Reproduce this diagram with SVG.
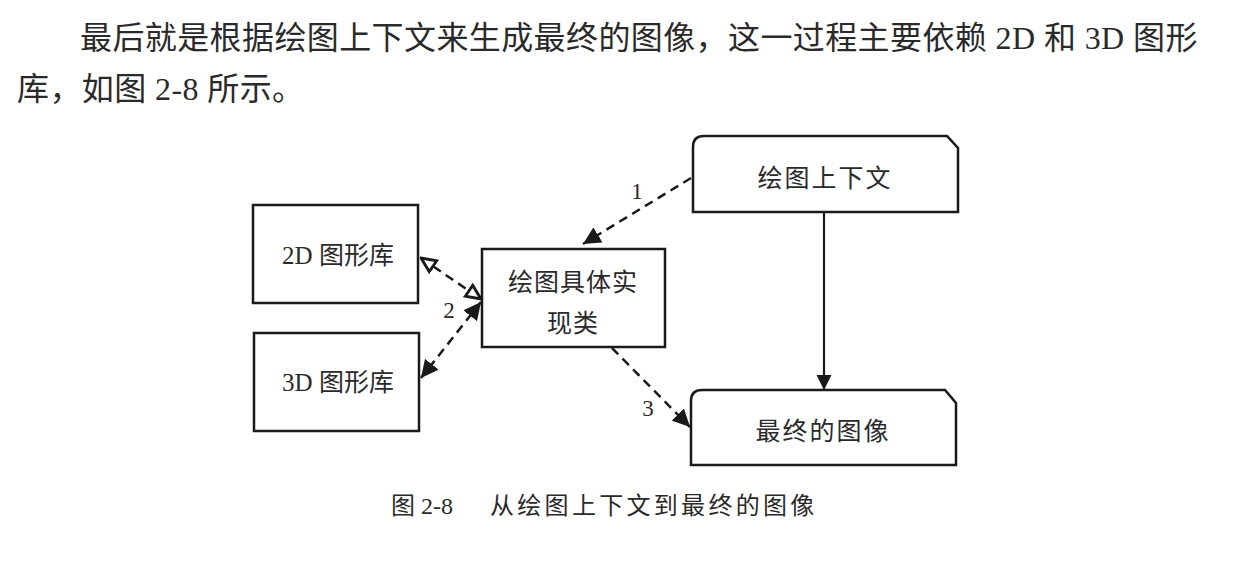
<svg xmlns="http://www.w3.org/2000/svg" width="1240" height="561" viewBox="0 0 1240 561">
<style>
.box{fill:#fff;stroke:#1a1a1a;stroke-width:2.5}
.t{font-family:"Liberation Serif","Noto Sans CJK SC",serif;fill:#2a2a2a}
.para{font-size:32px;letter-spacing:0.4px}
.lbl{font-size:25px;text-anchor:middle}
.num{font-size:23px;text-anchor:middle}
.cap{font-size:24px}
.dash{fill:none;stroke:#1a1a1a;stroke-width:2.5;stroke-dasharray:9,6}
.solid{fill:none;stroke:#1a1a1a;stroke-width:2.2}
</style>
<defs>
<marker id="af" viewBox="0 0 10 10" refX="10" refY="5" markerWidth="7" markerHeight="7" markerUnits="strokeWidth" orient="auto-start-reverse">
<path d="M0,0 L10,5 L0,10 Z" fill="#1a1a1a"/>
</marker>
<marker id="ao" viewBox="0 0 12 12" refX="11" refY="6" markerWidth="7" markerHeight="7" markerUnits="strokeWidth" orient="auto-start-reverse">
<path d="M1,1.5 L11,6 L1,10.5 Z" fill="#fff" stroke="#1a1a1a" stroke-width="2"/>
</marker>
</defs>
<rect width="1240" height="561" fill="#fff"/>
<text class="t para" x="80" y="49">最后就是根据绘图上下文来生成最终的图像，这一过程主要依赖 2D 和 3D 图形</text>
<text class="t para" x="17" y="100">库，如图 2-8 所示。</text>

<g id="connectors">
<path class="dash" d="M691,178 L583,244" marker-end="url(#af)"/>
<path class="dash" d="M421,258 L481,299" marker-start="url(#ao)" marker-end="url(#ao)"/>
<path class="dash" d="M481,302 L421,378" marker-start="url(#af)" marker-end="url(#af)"/>
<path class="dash" d="M612,348 L690,427" marker-end="url(#af)"/>
<path class="solid" d="M824,212 L824,390" marker-end="url(#af)"/>
<text class="t num" x="637" y="199">1</text>
<text class="t num" x="449" y="318">2</text>
<text class="t num" x="648" y="416">3</text>
</g>

<g id="n2d">
<rect class="box" x="253" y="205" width="165" height="98"/>
<text class="t lbl" x="338" y="264">2D 图形库</text>
</g>
<g id="n3d">
<rect class="box" x="254" y="333" width="165" height="98"/>
<text class="t lbl" x="338" y="391">3D 图形库</text>
</g>
<g id="nimpl">
<rect class="box" x="482" y="249" width="183" height="98"/>
<text class="t lbl" x="573" y="291" letter-spacing="1">绘图具体实</text>
<text class="t lbl" x="573" y="332" letter-spacing="1">现类</text>
</g>
<g id="nctx">
<path class="box" d="M693,212 L693,147 Q693,136 704,136 L947,136 L958,148 L958,212 Z"/>
<text class="t lbl" x="825" y="187" letter-spacing="2">绘图上下文</text>
</g>
<g id="nimg">
<path class="box" d="M691,465 L691,401 Q691,390 702,390 L945,390 L956,403 L956,465 Z"/>
<text class="t lbl" x="823" y="440" letter-spacing="2">最终的图像</text>
</g>
<text class="t cap" x="391" y="514">图 2-8</text>
<text class="t cap" x="490" y="514" letter-spacing="3.3">从绘图上下文到最终的图像</text>
</svg>
